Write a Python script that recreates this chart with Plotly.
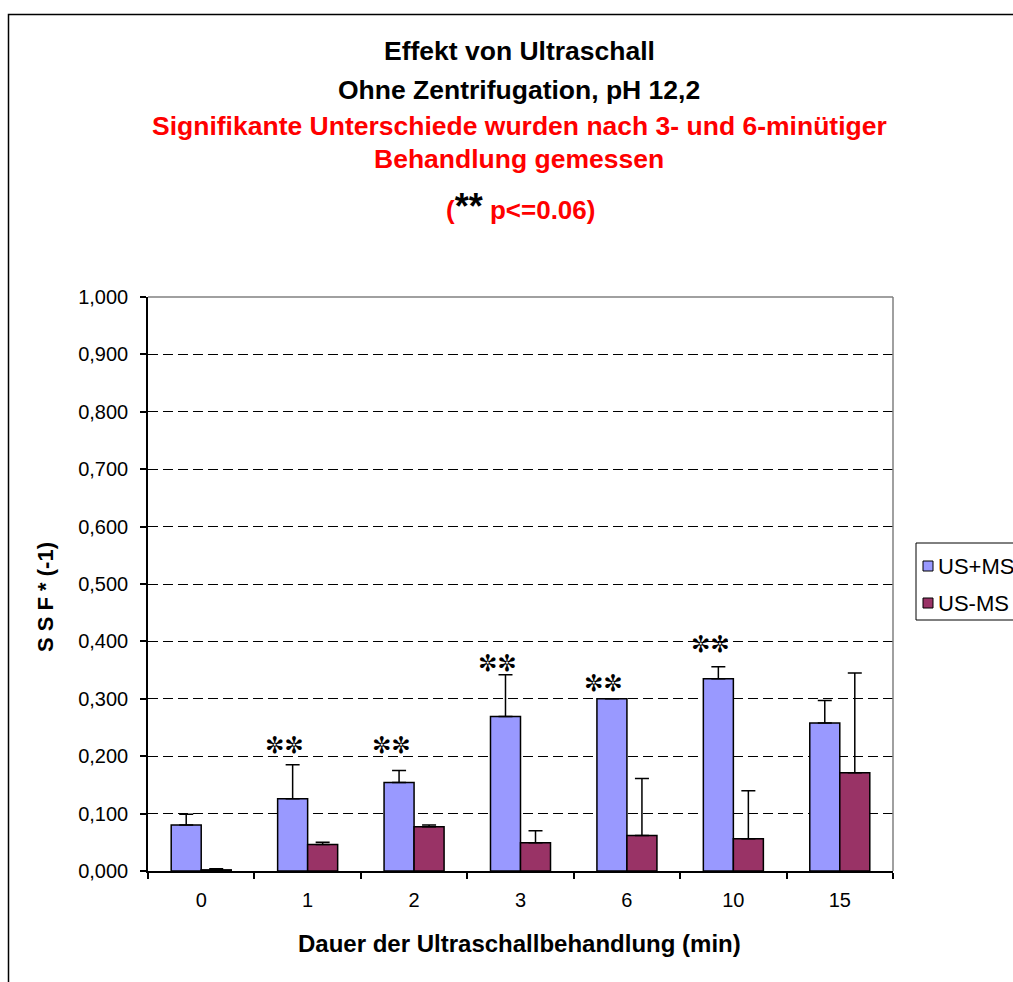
import plotly.graph_objects as go

# --- data -------------------------------------------------------------
durations = ["0", "1", "2", "3", "6", "10", "15"]          # min of ultrasound
us_plus_ms = [0.080, 0.126, 0.154, 0.269, 0.300, 0.335, 0.258]
us_plus_ms_err = [0.019, 0.059, 0.021, 0.073, 0.000, 0.021, 0.039]
us_minus_ms = [0.002, 0.046, 0.077, 0.049, 0.062, 0.056, 0.171]
us_minus_ms_err = [0.002, 0.004, 0.003, 0.021, 0.099, 0.084, 0.174]
star_levels = [None, 0.219, 0.219, 0.363, 0.328, 0.396, None]  # "**" markers
y_tick_values = [0.0, 0.1, 0.2, 0.3, 0.4, 0.5, 0.6, 0.7, 0.8, 0.9, 1.0]
y_tick_labels = ["0,000", "0,100", "0,200", "0,300", "0,400", "0,500",
                 "0,600", "0,700", "0,800", "0,900", "1,000"]
series_names = ["US+MS", "US-MS"]

# --- styling ----------------------------------------------------------
W, H = 1013, 982
PL, PR, PT, PB = 148, 893, 297, 871      # plot area in pixels
BLUE = "#9999FF"
PLUM = "#993366"
RED = "#FF0000"
FONT = "Liberation Sans"


def fx(px):
    return (px - PL) / (PR - PL)


def fy(py):
    return (PB - py) / (PB - PT)


fig = go.Figure()

for name, vals, errs, color in [
    (series_names[0], us_plus_ms, us_plus_ms_err, BLUE),
    (series_names[1], us_minus_ms, us_minus_ms_err, PLUM),
]:
    fig.add_trace(go.Bar(
        x=durations, y=vals, name=name,
        marker=dict(color=color, line=dict(color="black", width=1.5)),
        error_y=dict(type="data", symmetric=False, array=errs,
                     arrayminus=[0] * len(errs), color="black",
                     thickness=1.5, width=7),
        showlegend=False,
    ))

# significance stars above the US+MS bars (category index positions)
for i, lvl in enumerate(star_levels):
    if lvl is None:
        continue
    fig.add_annotation(x=i, y=lvl, xref="x", yref="y", text="✼✼",
                       showarrow=False, xshift=-23,
                       font=dict(family="DejaVu Sans", size=23, color="black"))

shapes = []
# outer chart frame
shapes.append(dict(type="rect", xref="paper", yref="paper",
                   x0=fx(8.5), x1=fx(1200), y0=fy(1200), y1=fy(14.5),
                   line=dict(color="black", width=1.5), layer="below"))
# grey top / right border of the plot area
shapes.append(dict(type="line", xref="paper", yref="paper", x0=0, x1=1, y0=1, y1=1,
                   line=dict(color="#808080", width=1.5), layer="above"))
shapes.append(dict(type="line", xref="paper", yref="paper", x0=1, x1=1, y0=0, y1=1,
                   line=dict(color="#808080", width=1.5), layer="above"))
# legend box and swatches
shapes.append(dict(type="rect", xref="paper", yref="paper",
                   x0=fx(916), x1=fx(1200), y0=fy(620), y1=fy(543),
                   line=dict(color="black", width=1), fillcolor="white", layer="above"))
for cy, col in [(566, BLUE), (603, PLUM)]:
    shapes.append(dict(type="rect", xref="paper", yref="paper",
                       x0=fx(923), x1=fx(933), y0=fy(cy + 5), y1=fy(cy - 5),
                       line=dict(color="black", width=1), fillcolor=col, layer="above"))
for cy, name in [(566, series_names[0]), (603, series_names[1])]:
    fig.add_annotation(xref="paper", yref="paper", x=fx(936), y=fy(cy),
                       xanchor="left", yanchor="middle", showarrow=False, text=name,
                       font=dict(family=FONT, size=22, color="black"))

# title block
title_lines = [
    ("<b>Effekt von Ultraschall</b>", 51, "black"),
    ("<b>Ohne Zentrifugation, pH 12,2</b>", 90, "black"),
    ("<b>Signifikante Unterschiede wurden nach 3- und 6-minütiger</b>", 126, RED),
    ("<b>Behandlung gemessen</b>", 159, RED),
]
for txt, cy, col in title_lines:
    fig.add_annotation(xref="paper", yref="paper", x=fx(519), y=fy(cy),
                       xanchor="center", yanchor="middle", showarrow=False, text=txt,
                       font=dict(family=FONT, size=26.5, color=col))
fig.add_annotation(
    xref="paper", yref="paper", x=fx(520), y=fy(207), xanchor="center",
    yanchor="middle", showarrow=False,
    text=("<b>(<span style='color:black;font-size:36px'>**</span>"
          " p&lt;=0.06)</b>"),
    font=dict(family=FONT, size=26, color=RED))

# axis titles
fig.add_annotation(xref="paper", yref="paper", x=fx(519), y=fy(943),
                   xanchor="center", yanchor="middle", showarrow=False,
                   text="<b>Dauer der Ultraschallbehandlung (min)</b>",
                   font=dict(family=FONT, size=24, color="black"))
fig.add_annotation(xref="paper", yref="paper", x=fx(45), y=fy(597),
                   xanchor="center", yanchor="middle", showarrow=False,
                   textangle=-90, text="<b>S S F * (-1)</b>",
                   font=dict(family=FONT, size=22, color="black"))

fig.update_layout(
    width=W, height=H,
    margin=dict(l=PL, r=W - PR, t=PT, b=H - PB, pad=0),
    paper_bgcolor="white", plot_bgcolor="white",
    barmode="group", bargap=0.436, bargroupgap=0,
    shapes=shapes,
    font=dict(family=FONT, color="black"),
)
fig.update_xaxes(
    type="category", range=[-0.5, len(durations) - 0.5],
    showline=True, linecolor="black", linewidth=1.5,
    ticks="outside", tickson="boundaries", ticklen=6, tickcolor="black",
    tickwidth=1.5, showgrid=False, ticklabelstandoff=10,
    tickfont=dict(family=FONT, size=20, color="black"),
)
fig.update_yaxes(
    range=[0, 1.0], tickvals=y_tick_values, ticktext=y_tick_labels,
    showline=True, linecolor="black", linewidth=1.5,
    ticks="outside", ticklen=6, tickcolor="black", tickwidth=1.5,
    showgrid=True, gridcolor="black", gridwidth=1, griddash="10px,5px",
    zeroline=False, ticklabelstandoff=8,
    tickfont=dict(family=FONT, size=20, color="black"),
)

fig.write_html("out.html")
